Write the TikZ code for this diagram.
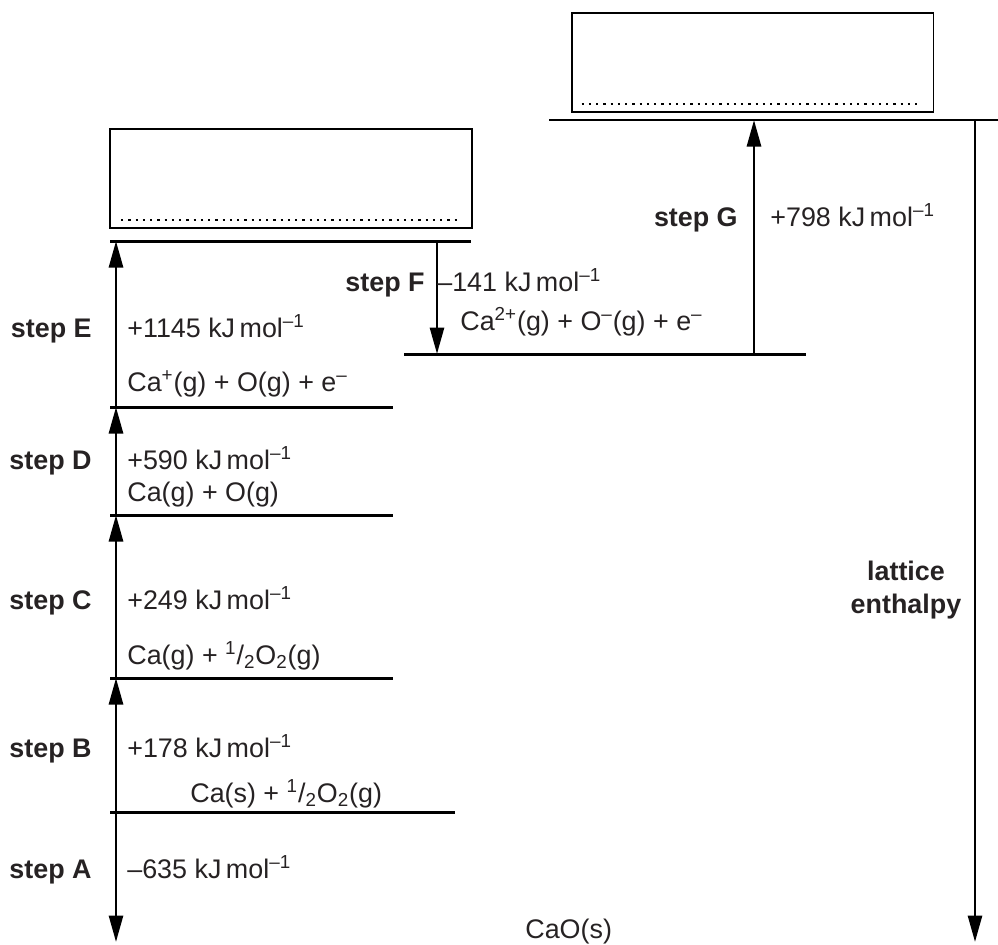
\documentclass[tikz,border=0pt]{standalone}
\usepackage{fontspec}
\setmainfont{Liberation Sans}
\usetikzlibrary{arrows.meta}
\definecolor{ink}{RGB}{38,34,35}
\newcommand{\kjmol}{kJ\,mol\textsuperscript{–1}}
\newcommand{\halfox}{\textsuperscript{1}/\textsubscript{2}O\textsubscript{2}(g)}

\begin{document}
\begin{tikzpicture}[
  x=0.02cm, y=-0.02cm,
  every node/.style={font=\fontsize{15.3}{18}\selectfont, inner sep=0pt, text=ink},
  level/.style={line width=1.7pt},
  arrow/.style={line width=1.6pt, -{Triangle[length=5.3mm, width=2.8mm]}},
  answerbox/.style={draw, line width=1.1pt, minimum width=7.24cm, minimum height=1.98cm},
  dots/.style={line width=0.045cm, dash pattern=on 0.045cm off 0.1cm},
  steplabel/.style={anchor=base east, font=\fontsize{15.3}{18}\selectfont\bfseries},
  value/.style={anchor=base west},
  species/.style={anchor=base west}
]
\useasboundingbox (0,0) rectangle (998,944);

% boxes to fill in
\node[answerbox] (boxE) at (291,178.5) {};
\node[answerbox] (boxG) at (752.5,62.5) {};
\draw[dots] ([shift={(12,-9)}]boxE.south west) -- ([shift={(-15,-9)}]boxE.south east);
\draw[dots] ([shift={(11,-9)}]boxG.south west) -- ([shift={(-14,-9)}]boxG.south east);

% energy levels
\draw[level] (110,241) -- (471,241);
\draw[level] (549,120) -- (998,120);
\draw[level] (404,354) -- (806,354);
\draw[level] (110,407) -- (393,407);
\draw[level] (110,515) -- (393,515);
\draw[level] (110,678) -- (393,678);
\draw[level] (110,812) -- (455,812);

\coordinate (solid) at (116,812);
\coordinate (oxide) at (116,942);
\coordinate (atomC) at (116,678);
\coordinate (atomD) at (116,515);
\coordinate (ionE) at (116,407);
\coordinate (ionTop) at (116,241);
\coordinate (ionF) at (437,241);
\coordinate (ionFb) at (437,354);
\coordinate (ionGb) at (754,354);
\coordinate (ionG) at (754,120);
\coordinate (latTop) at (975,120);
\coordinate (latBot) at (975,942);

% steps
\draw[arrow] (solid) -- (oxide);
\draw[arrow] (solid) -- (atomC);
\draw[arrow] (atomC) -- (atomD);
\draw[arrow] (atomD) -- (ionE);
\draw[arrow] (ionE) -- (ionTop);
\draw[arrow] (ionF) -- (ionFb);
\draw[arrow] (ionGb) -- (ionG);
\draw[arrow] (latTop) -- (latBot);

% labels
\node[steplabel] (stepA) at (92,878) {step A};
\node[value] (dhA) at (127,878) {–635 \kjmol};
\node[steplabel] (stepB) at (92,757) {step B};
\node[value] (dhB) at (127,757) {+178 \kjmol};
\node[species] (caS) at (190,802) {Ca(s) + \halfox};
\node[steplabel] (stepC) at (92,609) {step C};
\node[value] (dhC) at (127,609) {+249 \kjmol};
\node[species] (caG) at (127,664) {Ca(g) + \halfox};
\node[steplabel] (stepD) at (92,469) {step D};
\node[value] (dhD) at (127,469) {+590 \kjmol};
\node[species] (caO) at (127,501) {Ca(g) + O(g)};
\node[steplabel] (stepE) at (92,337) {step E};
\node[value] (dhE) at (127,337) {+1145 \kjmol};
\node[species] (caIon) at (127,391) {Ca\textsuperscript{+}(g) + O(g) + e\textsuperscript{–}};
\node[steplabel] (stepF) at (425,291) {step F};
\node[value] (dhF) at (437,291) {–141 \kjmol};
\node[species] (ca2Ion) at (460,330) {Ca\textsuperscript{2+}(g) + O\textsuperscript{–}(g) + e\textsuperscript{–}};
\node[steplabel] (stepG) at (738,226) {step G};
\node[value] (dhG) at (770,226) {+798 \kjmol};
\node[align=center, font=\fontsize{15.3}{19}\selectfont\bfseries] (lattice) at (906,590) {lattice\\enthalpy};
\node[species] (cao) at (525,938) {CaO(s)};
\end{tikzpicture}
\end{document}
